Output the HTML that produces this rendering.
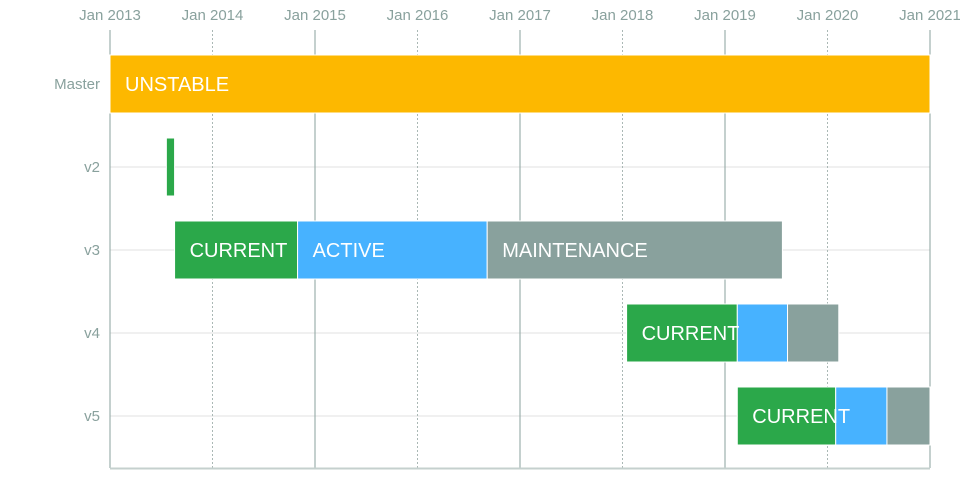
<!DOCTYPE html>
<html><head><meta charset="utf-8"><style>
html,body{margin:0;padding:0;background:#fff;}
svg{display:block;font-family:"Liberation Sans",sans-serif;}
</style></head><body>
<svg id="chart" width="960" height="500"></svg>
<script>
const rows = ["Master","v2","v3","v4","v5"];
const tickYears = [2013,2014,2015,2016,2017,2018,2019,2020,2021];
const segRow   = ["Master","v2","v3","v3","v3","v4","v4","v4","v5","v5","v5"];
const segStart = [2013.0,2013.55,2013.63,2014.83,2016.68,2018.04,2019.12,2019.61,2019.12,2020.08,2020.58];
const segEnd   = [2021.0,2013.63,2014.83,2016.68,2019.56,2019.12,2019.61,2020.11,2020.08,2020.58,2021.0];
const segType  = ["unstable","current","current","active","maintenance","current","active","maintenance","current","active","maintenance"];
const segLabel = ["UNSTABLE","","CURRENT","ACTIVE","MAINTENANCE","CURRENT","","","CURRENT","",""];

const NS="http://www.w3.org/2000/svg";
const svg=document.getElementById('chart');
const x0=110,x1=930,yTop=30,yBot=468,rowH=83,firstCenter=84,barH=58;
const xs=v=>x0+(v-2013)/(2021-2013)*(x1-x0);
const ys=r=>firstCenter+rows.indexOf(r)*rowH;
const colors={unstable:"#fdb800",current:"#2ba84a",active:"#47b2ff",maintenance:"#89a19d"};
function mk(t,a){const e=document.createElementNS(NS,t);for(const k in a)e.setAttribute(k,a[k]);svg.appendChild(e);return e;}

rows.forEach(r=>{
  const g=mk('line',{x1:x0,x2:x1,y1:ys(r),y2:ys(r),stroke:'#e2e2e2','stroke-width':1});
  
  
  const t=mk('text',{x:100,y:ys(r)+5,'text-anchor':'end','font-size':15,fill:'#89a19d'});
  t.textContent=r;
  
  
});
tickYears.forEach((y,i)=>{
  const l=mk('line',{x1:xs(y),x2:xs(y),y1:yTop,y2:yBot,stroke:'#89a19d','stroke-width':1});
  if(i%2===1){l.setAttribute('stroke-dasharray','2,2');l.setAttribute('stroke','#aab8b5');}
  
  
  const t=mk('text',{x:xs(y),y:20,'text-anchor':'middle','font-size':15,fill:'#89a19d'});
  t.textContent='Jan '+y;
  
  
});
const ax=mk('line',{x1:x0,x2:x1,y1:yBot+0.5,y2:yBot+0.5,stroke:'#c5d0ce','stroke-width':2});



segStart.forEach((s,i)=>{
  const cy=ys(segRow[i]);
  const r=mk('rect',{x:xs(s),y:cy-barH/2,width:xs(segEnd[i])-xs(s),height:barH,fill:colors[segType[i]],stroke:'#fff','stroke-width':1});
  
  
});
segStart.forEach((s,i)=>{
  if(!segLabel[i])return;
  const t=mk('text',{x:xs(s)+15,y:ys(segRow[i])+7,'font-size':20,fill:'#fff'});
  t.textContent=segLabel[i];
  
  
});
</script>
</body></html>
